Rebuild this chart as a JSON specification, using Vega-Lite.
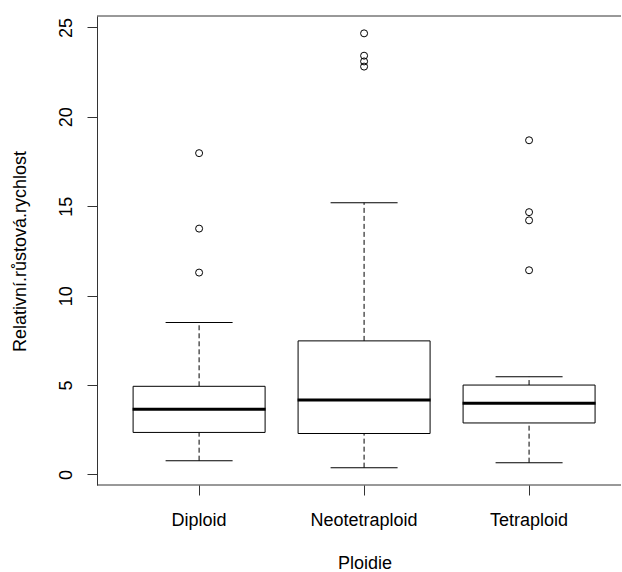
{
  "$schema": "https://vega.github.io/schema/vega-lite/v6.json",
  "width": 622,
  "height": 572,
  "autosize": {"type": "fit", "contains": "padding"},
  "padding": {"left": 11, "top": 15, "right": 0, "bottom": 0},
  "background": "white",
  "config": {
    "view": {"stroke": null},
    "font": "Liberation Sans",
    "axis": {
      "grid": false,
      "domainColor": "#333333",
      "tickColor": "#333333",
      "tickSize": 10,
      "labelFont": "Liberation Sans",
      "labelFontSize": 18,
      "labelColor": "#000000",
      "titleFont": "Liberation Sans",
      "titleFontSize": 18,
      "titleFontWeight": "normal",
      "titleColor": "#000000"
    },
    "axisX": {
      "domain": false,
      "labelAngle": 0,
      "labelBaseline": "alphabetic",
      "labelPadding": 30,
      "titleX": 267.6,
      "titleY": 83,
      "titleAlign": "center",
      "titleBaseline": "alphabetic"
    },
    "axisY": {
      "labelAngle": 270,
      "labelAlign": "center",
      "labelBaseline": "alphabetic",
      "labelPadding": 16,
      "titleAngle": 270,
      "titleX": -71.5,
      "titleY": 235,
      "titleAlign": "center",
      "titleBaseline": "alphabetic"
    }
  },
  "datasets": {
    "stats": [
      {"Ploidie": "Diploid", "lo": 0.77, "q1": 2.35, "med": 3.64, "q3": 4.93, "hi": 8.50},
      {"Ploidie": "Neotetraploid", "lo": 0.38, "q1": 2.29, "med": 4.16, "q3": 7.47, "hi": 15.20},
      {"Ploidie": "Tetraploid", "lo": 0.66, "q1": 2.88, "med": 3.98, "q3": 5.00, "hi": 5.46}
    ],
    "outliers": [
      {"Ploidie": "Diploid", "value": 11.29},
      {"Ploidie": "Diploid", "value": 13.75},
      {"Ploidie": "Diploid", "value": 17.97},
      {"Ploidie": "Neotetraploid", "value": 22.81},
      {"Ploidie": "Neotetraploid", "value": 23.10},
      {"Ploidie": "Neotetraploid", "value": 23.42},
      {"Ploidie": "Neotetraploid", "value": 24.67},
      {"Ploidie": "Tetraploid", "value": 11.42},
      {"Ploidie": "Tetraploid", "value": 14.21},
      {"Ploidie": "Tetraploid", "value": 14.67},
      {"Ploidie": "Tetraploid", "value": 18.69}
    ]
  },
  "layer": [
    {
      "data": {"name": "stats"},
      "mark": {"type": "rule", "color": "#000000", "strokeWidth": 1, "strokeDash": [5, 3]},
      "encoding": {
        "x": {"field": "Ploidie", "type": "nominal", "sort": ["Diploid", "Neotetraploid", "Tetraploid"], "scale": {"paddingInner": 0.2, "paddingOuter": 0.188, "align": 0.582}, "title": "Ploidie"},
        "y": {"field": "q3", "type": "quantitative", "scale": {"domain": [-0.59, 25.64], "nice": false, "zero": false}, "axis": {"values": [0, 5, 10, 15, 20, 25]}, "title": "Relativní.růstová.rychlost"},
        "y2": {"field": "hi"}
      }
    },
    {
      "data": {"name": "stats"},
      "mark": {"type": "rule", "color": "#000000", "strokeWidth": 1, "strokeDash": [5, 3]},
      "encoding": {
        "x": {"field": "Ploidie", "type": "nominal", "sort": ["Diploid", "Neotetraploid", "Tetraploid"], "scale": {"paddingInner": 0.2, "paddingOuter": 0.188, "align": 0.582}, "title": "Ploidie"},
        "y": {"field": "lo", "type": "quantitative", "scale": {"domain": [-0.59, 25.64], "nice": false, "zero": false}, "axis": {"values": [0, 5, 10, 15, 20, 25]}, "title": "Relativní.růstová.rychlost"},
        "y2": {"field": "q1"}
      }
    },
    {
      "data": {"name": "stats"},
      "mark": {"type": "tick", "color": "#000000", "size": 67, "thickness": 1, "opacity": 1},
      "encoding": {
        "x": {"field": "Ploidie", "type": "nominal", "sort": ["Diploid", "Neotetraploid", "Tetraploid"], "scale": {"paddingInner": 0.2, "paddingOuter": 0.188, "align": 0.582}, "title": "Ploidie"},
        "y": {"field": "hi", "type": "quantitative", "scale": {"domain": [-0.59, 25.64], "nice": false, "zero": false}, "axis": {"values": [0, 5, 10, 15, 20, 25]}, "title": "Relativní.růstová.rychlost"}
      }
    },
    {
      "data": {"name": "stats"},
      "mark": {"type": "tick", "color": "#000000", "size": 67, "thickness": 1, "opacity": 1},
      "encoding": {
        "x": {"field": "Ploidie", "type": "nominal", "sort": ["Diploid", "Neotetraploid", "Tetraploid"], "scale": {"paddingInner": 0.2, "paddingOuter": 0.188, "align": 0.582}, "title": "Ploidie"},
        "y": {"field": "lo", "type": "quantitative", "scale": {"domain": [-0.59, 25.64], "nice": false, "zero": false}, "axis": {"values": [0, 5, 10, 15, 20, 25]}, "title": "Relativní.růstová.rychlost"}
      }
    },
    {
      "data": {"name": "stats"},
      "mark": {"type": "bar", "fill": "#ffffff", "stroke": "#000000", "strokeWidth": 1},
      "encoding": {
        "x": {"field": "Ploidie", "type": "nominal", "sort": ["Diploid", "Neotetraploid", "Tetraploid"], "scale": {"paddingInner": 0.2, "paddingOuter": 0.188, "align": 0.582}, "title": "Ploidie"},
        "y": {"field": "q1", "type": "quantitative", "scale": {"domain": [-0.59, 25.64], "nice": false, "zero": false}, "axis": {"values": [0, 5, 10, 15, 20, 25]}, "title": "Relativní.růstová.rychlost"},
        "y2": {"field": "q3"}
      }
    },
    {
      "data": {"name": "stats"},
      "mark": {"type": "tick", "color": "#000000", "size": 133, "thickness": 3, "opacity": 1},
      "encoding": {
        "x": {"field": "Ploidie", "type": "nominal", "sort": ["Diploid", "Neotetraploid", "Tetraploid"], "scale": {"paddingInner": 0.2, "paddingOuter": 0.188, "align": 0.582}, "title": "Ploidie"},
        "y": {"field": "med", "type": "quantitative", "scale": {"domain": [-0.59, 25.64], "nice": false, "zero": false}, "axis": {"values": [0, 5, 10, 15, 20, 25]}, "title": "Relativní.růstová.rychlost"}
      }
    },
    {
      "data": {"name": "outliers"},
      "mark": {"type": "point", "shape": "circle", "filled": false, "stroke": "#000000", "strokeWidth": 1, "size": 49, "opacity": 1},
      "encoding": {
        "x": {"field": "Ploidie", "type": "nominal", "sort": ["Diploid", "Neotetraploid", "Tetraploid"], "scale": {"paddingInner": 0.2, "paddingOuter": 0.188, "align": 0.582}, "title": "Ploidie"},
        "y": {"field": "value", "type": "quantitative", "scale": {"domain": [-0.59, 25.64], "nice": false, "zero": false}, "axis": {"values": [0, 5, 10, 15, 20, 25]}, "title": "Relativní.růstová.rychlost"}
      }
    },
    {
      "data": {"values": [{"edge": -0.59}, {"edge": 25.64}]},
      "mark": {"type": "rule", "color": "#333333", "strokeWidth": 1},
      "encoding": {
        "y": {"field": "edge", "type": "quantitative", "scale": {"domain": [-0.59, 25.64], "nice": false, "zero": false}, "axis": {"values": [0, 5, 10, 15, 20, 25]}, "title": "Relativní.růstová.rychlost"}
      }
    }
  ]
}
